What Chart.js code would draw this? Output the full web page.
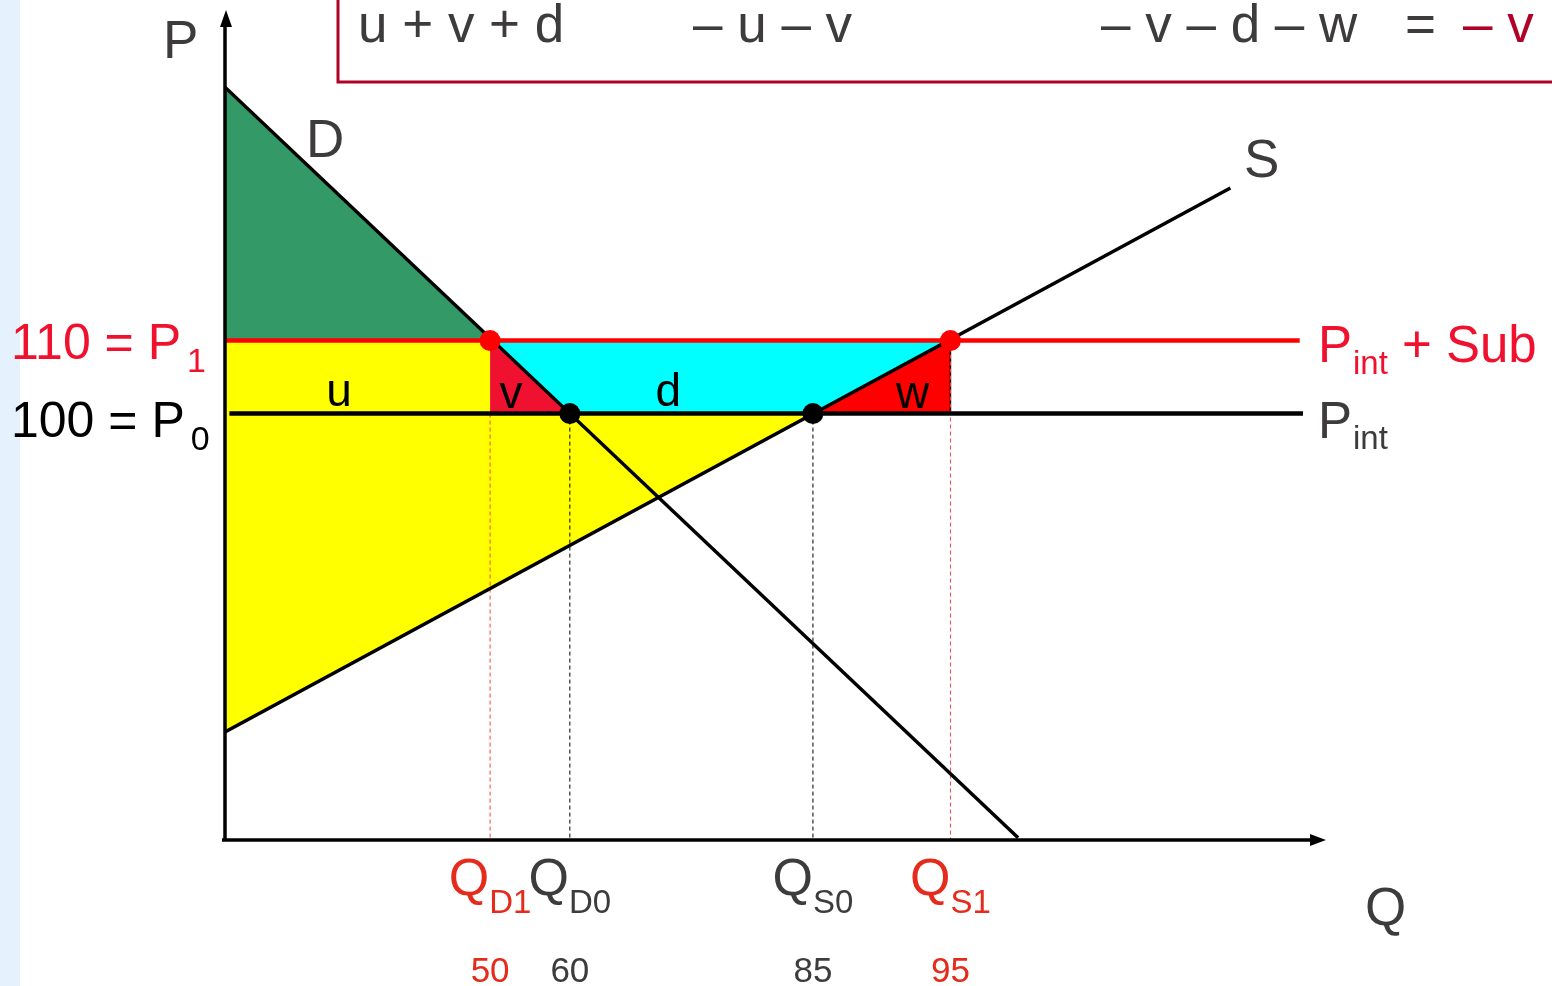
<!DOCTYPE html>
<html>
<head>
<meta charset="utf-8">
<script src="https://cdn.jsdelivr.net/npm/chart.js@4.4.1/dist/chart.umd.min.js"></script>
<style>
  html, body { margin: 0; padding: 0; background: #fff; }
  #wrap { width: 1552px; height: 986px; }
</style>
</head>
<body>
<div id="wrap"><canvas id="myChart" width="1552" height="986"></canvas></div>
<script>
// setup block
// quantity axis is schematic (0..100 diagram units), price axis in P
const demandQ = [0, 72.1];
const demandP = [144.7, 41.9];
const supplyQ = [0, 91.4];
const supplyP = [56.4, 130.9];

// world price and world price + subsidy
const priceLevels = [100, 110];
const priceLineEnd = [98, 97.7];

// quantities: QD1, QD0, QS0, QS1
const qNames = ["D1", "D0", "S0", "S1"];
const qValues = [24.1, 31.35, 53.45, 65.95];
const qTickLabels = ["50", "60", "85", "95"];
const qIsNew = [true, false, false, true];

// axis range
const qRange = [0, 100];
const pRange = [41.6, 155];

// colors
const RED_TXT = "#f0112e";
const Q_RED = "#e42b1c";
const GRAY = "#3d3b3c";
const BOX = "#b00226";

const [P0, P1] = priceLevels;
const [qD1, qD0, qS0, qS1] = qValues;
const pts = (xs, ys) => xs.map((x, i) => ({ x: x, y: ys[i] }));
// quantity demanded at a price
const demandAt = (p) =>
  demandQ[0] + (p - demandP[0]) * (demandQ[1] - demandQ[0]) / (demandP[1] - demandP[0]);

const polygon = (label, points, color, order, border) => ({
  label: label,
  data: points,
  showLine: true,
  fill: "shape",
  backgroundColor: color,
  borderColor: border ? border : "rgba(0,0,0,0)",
  borderWidth: border ? 1.5 : 0,
  pointRadius: 0,
  order: order,
});
const line = (label, points, color, width, order, dash) => ({
  label: label,
  data: points,
  showLine: true,
  fill: false,
  borderColor: color,
  borderWidth: width,
  borderDash: dash || [],
  pointRadius: 0,
  order: order,
});

const data = {
  datasets: [
    // dots
    {
      label: "new", data: [{ x: qD1, y: P1 }, { x: qS1, y: P1 }],
      showLine: false, pointRadius: 10.5, pointBackgroundColor: "#ff0000",
      pointBorderWidth: 0, order: 0,
    },
    {
      label: "old", data: [{ x: qD0, y: P0 }, { x: qS0, y: P0 }],
      showLine: false, pointRadius: 10.5, pointBackgroundColor: "#000",
      pointBorderWidth: 0, order: 0,
    },
    // curves and price lines
    line("D", pts(demandQ, demandP), "#000", 3.5, 1),
    line("S", pts(supplyQ, supplyP), "#000", 3.5, 1),
    line("P1", [{ x: 0, y: P1 }, { x: priceLineEnd[1], y: P1 }], "#ff0000", 4.5, 2),
    line("P0", [{ x: 0.4, y: P0 }, { x: priceLineEnd[0], y: P0 }], "#000", 4.5, 2),
    // guides
    line("gD1", [{ x: qD1, y: P0 }, { x: qD1, y: pRange[0] }], "#ff4040", 1, 3, [4, 3]),
    line("gD0", [{ x: qD0, y: P0 }, { x: qD0, y: pRange[0] }], "#000", 1, 3, [4, 3]),
    line("gS0", [{ x: qS0, y: P0 }, { x: qS0, y: pRange[0] }], "#000", 1, 3, [4, 3]),
    line("gS1", [{ x: qS1, y: P1 }, { x: qS1, y: pRange[0] }], "#ff4040", 1, 3, [4, 3]),
    // areas
    polygon("w", [{ x: qS0, y: P0 }, { x: qS1, y: P1 }, { x: qS1, y: P0 }], "#ff0000", 4, "#000"),
    polygon("v", [{ x: qD1, y: P1 }, { x: qD1, y: P0 }, { x: qD0, y: P0 }], "#f0102f", 4),
    polygon("d", [{ x: demandAt(P1), y: P1 }, { x: qD0, y: P0 }, { x: qS0, y: P0 }, { x: qS1, y: P1 }], "#00ffff", 5),
    polygon("u", [{ x: 0, y: P1 }, { x: qD1, y: P1 }, { x: qD1, y: P0 }, { x: qS0, y: P0 }, { x: supplyQ[0], y: supplyP[0] }], "#ffff00", 5),
    polygon("cs", [{ x: demandQ[0], y: demandP[0] }, { x: demandAt(P1), y: P1 }, { x: 0, y: P1 }], "#339966", 5),
  ],
};

// draw text made of pieces (main text + subscripts)
function drawParts(ctx, parts, x, y, align) {
  let total = 0;
  parts.forEach((p) => {
    ctx.font = p.size + 'px "Liberation Sans", Arial, sans-serif';
    p.w = ctx.measureText(p.t).width + (p.gap || 0);
    total += p.w;
  });
  let cx = align === "center" ? x - total / 2 : x;
  ctx.textAlign = "left";
  ctx.textBaseline = "alphabetic";
  parts.forEach((p) => {
    ctx.font = p.size + 'px "Liberation Sans", Arial, sans-serif';
    ctx.fillStyle = p.color;
    ctx.fillText(p.t, cx + (p.gap || 0), y + (p.dy || 0));
    cx += p.w;
  });
}

// plugin - background strip
const pageBackground = {
  id: "pageBackground",
  beforeDraw(chart) {
    const { ctx, width, height } = chart;
    ctx.save();
    ctx.fillStyle = "#fff";
    ctx.fillRect(0, 0, width, height);
    ctx.fillStyle = "#e5f1fd";
    ctx.fillRect(0, 0, 20, height);
    ctx.restore();
  },
};

// plugin - axes with arrows, formula box and labels
const diagramLabels = {
  id: "diagramLabels",
  afterDraw(chart) {
    const { ctx, scales: { x, y } } = chart;
    const x0 = x.getPixelForValue(qRange[0]);
    const y0 = y.getPixelForValue(pRange[0]);
    const xEnd = x.getPixelForValue(qRange[1]);
    const yEnd = y.getPixelForValue(pRange[1]);
    ctx.save();

    // axes
    ctx.strokeStyle = "#000";
    ctx.fillStyle = "#000";
    ctx.lineWidth = 3.5;
    ctx.beginPath();
    ctx.moveTo(x0, y0 + 1);
    ctx.lineTo(x0, yEnd + 12);
    ctx.moveTo(x0 - 3, y0);
    ctx.lineTo(xEnd - 12, y0);
    ctx.stroke();
    ctx.beginPath();
    ctx.moveTo(x0 + 1, yEnd - 2);
    ctx.lineTo(x0 + 7, yEnd + 15);
    ctx.lineTo(x0 - 5, yEnd + 15);
    ctx.closePath();
    ctx.fill();
    ctx.beginPath();
    ctx.moveTo(xEnd + 1, y0);
    ctx.lineTo(xEnd - 15, y0 - 6);
    ctx.lineTo(xEnd - 15, y0 + 6);
    ctx.closePath();
    ctx.fill();

    // formula box
    ctx.strokeStyle = BOX;
    ctx.lineWidth = 3;
    ctx.strokeRect(338, -10, 1300, 92);
    const f = 53;
    drawParts(ctx, [{ t: "u + v + d", size: f, color: GRAY }], 358, 42);
    drawParts(ctx, [{ t: "\u2013 u \u2013 v", size: f, color: GRAY }], 693, 42);
    drawParts(ctx, [{ t: "\u2013 v \u2013 d \u2013 w", size: f, color: GRAY }], 1101, 42);
    drawParts(ctx, [{ t: "=", size: f, color: GRAY }], 1405, 42);
    drawParts(ctx, [{ t: "\u2013 v", size: f, color: BOX }], 1463, 42);

    // axis titles and curve names
    drawParts(ctx, [{ t: "P", size: 53, color: GRAY }], 163, 58);
    drawParts(ctx, [{ t: "Q", size: 53, color: GRAY }], 1365, 925);
    drawParts(ctx, [{ t: "D", size: 53, color: GRAY }], 306, 157);
    drawParts(ctx, [{ t: "S", size: 53, color: GRAY }], 1244, 177);

    // price labels
    const yP1 = y.getPixelForValue(P1);
    const yP0 = y.getPixelForValue(P0);
    drawParts(ctx, [
      { t: "110 = P", size: 50, color: RED_TXT },
      { t: "1", size: 34, color: RED_TXT, dy: 13, gap: 6 },
    ], 11, yP1 + 18);
    drawParts(ctx, [
      { t: "100 = P", size: 50, color: "#000" },
      { t: "0", size: 34, color: "#000", dy: 13, gap: 6 },
    ], 11, yP0 + 23);
    drawParts(ctx, [
      { t: "P", size: 51, color: RED_TXT },
      { t: "int", size: 33, color: RED_TXT, dy: 12, gap: 1 },
      { t: " + Sub", size: 51, color: RED_TXT },
    ], 1318, yP1 + 21);
    drawParts(ctx, [
      { t: "P", size: 51, color: GRAY },
      { t: "int", size: 33, color: GRAY, dy: 11, gap: 1 },
    ], 1318, yP0 + 24);

    // area letters
    const area = (t, q, yy) =>
      drawParts(ctx, [{ t: t, size: 46, color: "#000" }], x.getPixelForValue(q), yy, "center");
    area("u", 10.36, yP0 - 8);
    area("v", 26.0, yP0 - 6);
    area("d", 40.3, yP0 - 8);
    area("w", 62.5, yP0 - 6);

    // quantity labels and numbers
    qValues.forEach((q, i) => {
      const px = x.getPixelForValue(q);
      const c = qIsNew[i] ? Q_RED : GRAY;
      drawParts(ctx, [
        { t: "Q", size: 52, color: c },
        { t: qNames[i], size: 33, color: c, dy: 18 },
      ], px, 895, "center");
      drawParts(ctx, [{ t: qTickLabels[i], size: 35, color: c }], px, 982, "center");
    });

    ctx.restore();
  },
};

// config block
const config = {
  type: "scatter",
  data: data,
  options: {
    responsive: false,
    animation: false,
    devicePixelRatio: 1,
    layout: { padding: { left: 225, right: 227, top: 12, bottom: 146 } },
    elements: { line: { tension: 0 } },
    plugins: {
      legend: { display: false },
      tooltip: { enabled: false },
    },
    scales: {
      x: { type: "linear", min: qRange[0], max: qRange[1], display: false },
      y: { type: "linear", min: pRange[0], max: pRange[1], display: false },
    },
  },
  plugins: [pageBackground, diagramLabels],
};

// render init block
const myChart = new Chart(document.getElementById("myChart"), config);
</script>
</body>
</html>
